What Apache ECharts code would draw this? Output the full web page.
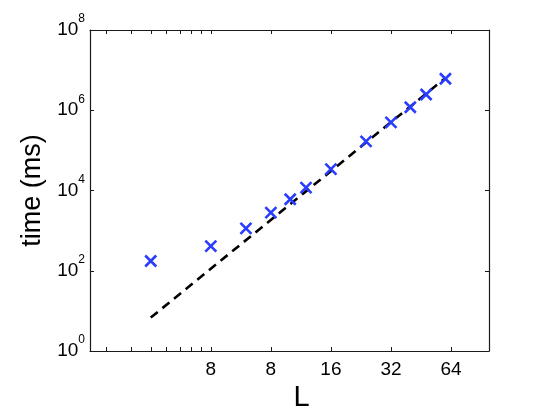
<!DOCTYPE html>
<html>
<head>
<meta charset="utf-8">
<script src="https://cdn.jsdelivr.net/npm/echarts@6/dist/echarts.min.js"></script>
<style>
html,body{margin:0;padding:0;background:#fff;}
#chart{width:541px;height:409px;}
</style>
</head>
<body>
<div id="chart"></div>
<script>
const L = [2, 4, 6, 8, 10, 12, 16, 24, 32, 40, 48, 60];
const timeMs = [175, 410, 1140, 2800, 6050, 11800, 34000, 168000, 500000, 1190000, 2470000, 6100000];
const fitL = [2, 60];
const fitTime = [6.8, 6.4e6];
const xTickValues = [4, 8, 16, 32, 64];
const xTickLabels = ['8', '8', '16', '32', '64'];
const xMinorTicks = [1.2, 1.6, 2.0, 2.4, 2.8, 3.2, 3.6];
const yTickValues = [1, 1e2, 1e4, 1e6, 1e8];

const FONT = 'Liberation Sans, Arial, Helvetica, sans-serif';
const AXC = '#1a1a1a';

function xLabel(v) {
  for (let i = 0; i < xTickValues.length; i++) {
    if (Math.abs(xTickValues[i] - v) < 1e-6 * xTickValues[i]) return xTickLabels[i];
  }
  return '';
}
function yLabel(v) {
  const e = Math.round(Math.log10(v));
  return '{b|10}{s|' + e + '}';
}

const chart = echarts.init(document.getElementById('chart'), null, {renderer: 'canvas'});
const xCommon = {
  type: 'log', logBase: 2, min: 0.992, max: 99.2,
  axisLine: {show: true, onZero: false, lineStyle: {color: AXC, width: 1.2}},
  splitLine: {show: false},
  minorTick: {show: false},
  minorSplitLine: {show: false}
};
const yCommon = {
  type: 'log', logBase: 10, min: 1, max: 1e8,
  axisLine: {show: true, onZero: false, lineStyle: {color: AXC, width: 1.2}},
  splitLine: {show: false},
  minorTick: {show: false}
};
chart.setOption({
  animation: false,
  backgroundColor: '#fff',
  grid: {left: 90, top: 30, right: 52, bottom: 58, containLabel: false, outerBoundsMode: 'none'},
  xAxis: [
    Object.assign({}, xCommon, {
      position: 'bottom',
      name: 'L', nameLocation: 'middle', nameGap: 23,
      nameTextStyle: {fontFamily: FONT, fontSize: 29, color: '#000', padding: [0, 0, 0, 24]},
      axisTick: {show: true, inside: true, length: 4, lineStyle: {color: AXC}, customValues: xMinorTicks.concat(xTickValues)},
      axisLabel: {show: true, customValues: xTickValues, margin: 9, fontFamily: FONT, fontSize: 19, color: '#000', formatter: xLabel}
    }),
    Object.assign({}, xCommon, {
      position: 'top',
      axisTick: {show: true, inside: true, length: 4, lineStyle: {color: AXC}, customValues: xMinorTicks.concat(xTickValues)},
      axisLabel: {show: false}
    })
  ],
  yAxis: [
    Object.assign({}, yCommon, {
      position: 'left',
      name: 'time (ms)', nameLocation: 'middle', nameGap: 44,
      nameTextStyle: {fontFamily: FONT, fontSize: 27, color: '#000'},
      axisTick: {show: true, inside: true, length: 4, lineStyle: {color: AXC}, customValues: yTickValues},
      axisLabel: {
        show: true, customValues: yTickValues, margin: 5, formatter: yLabel,
        rich: {
          b: {fontFamily: FONT, fontSize: 19, color: '#000', lineHeight: 34},
          s: {fontFamily: FONT, fontSize: 12, color: '#000', lineHeight: 12, verticalAlign: 'top'}
        }
      }
    }),
    Object.assign({}, yCommon, {
      position: 'right',
      axisTick: {show: true, inside: true, length: 4, lineStyle: {color: AXC}, customValues: yTickValues},
      axisLabel: {show: false}
    })
  ],
  series: [
    {
      type: 'line',
      xAxisIndex: 0, yAxisIndex: 0,
      data: fitL.map((x, i) => [x, fitTime[i]]),
      symbol: 'none',
      lineStyle: {color: '#000', width: 2.6, type: [9, 6]},
      z: 2
    },
    {
      type: 'scatter',
      xAxisIndex: 0, yAxisIndex: 0,
      data: L.map((x, i) => [x, timeMs[i]]),
      symbol: 'path://M0,0L10,10M10,0L0,10',
      symbolSize: 11,
      itemStyle: {color: 'rgba(0,0,0,0)', borderColor: '#2a3dff', borderWidth: 2.6, opacity: 1},
      z: 3
    }
  ]
});
</script>
</body>
</html>
